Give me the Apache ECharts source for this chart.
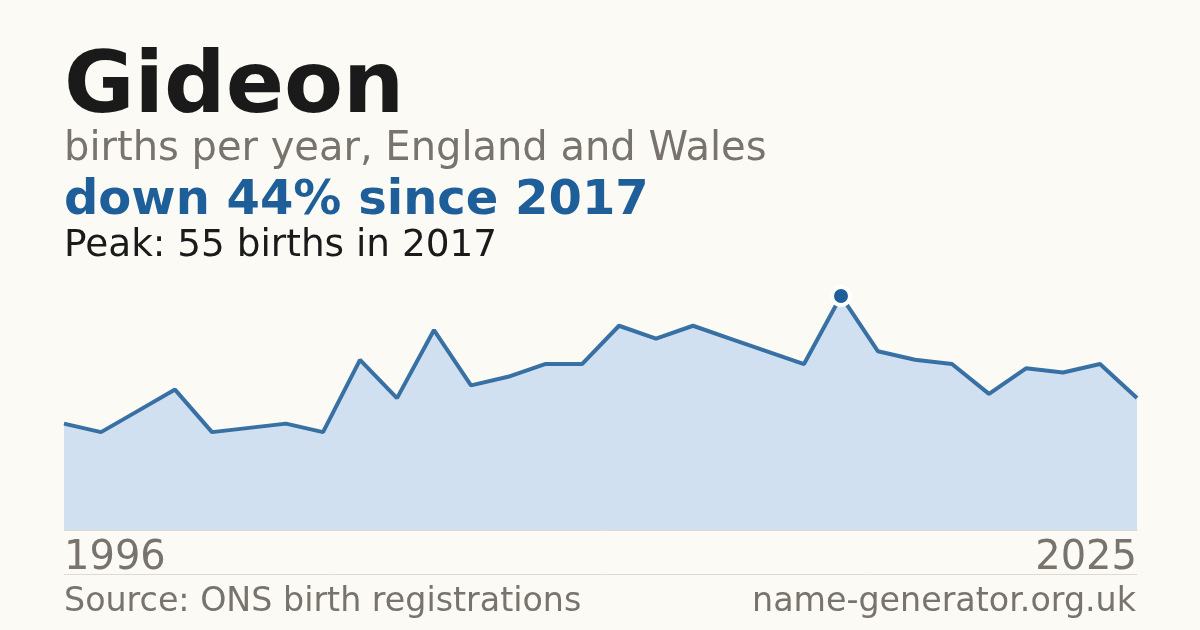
<!DOCTYPE html>
<html>

<head>
    <meta charset='UTF-8'>
    <script src="https://cdn.jsdelivr.net/npm/echarts@6/dist/echarts.min.js"></script>
    <style>
        html,
        body {
            margin: 0;
            padding: 0;
            background: #fbfaf5;
        }

        #chart {
            width: 1200px;
            height: 630px;
        }
    </style>
    <title>Gideon</title>
</head>

<body>
    <div id="chart"></div>

    <script>
        // births per year
        var years = ['1996', '1997', '1998', '1999', '2000', '2001', '2002', '2003', '2004', '2005',
            '2006', '2007', '2008', '2009', '2010', '2011', '2012', '2013', '2014', '2015',
            '2016', '2017', '2018', '2019', '2020', '2021', '2022', '2023', '2024', '2025'];
        var births = [25, 23, 28, 33, 23, 24, 25, 23, 40, 31,
            47, 34, 36, 39, 39, 48, 45, 48, 45, 42,
            39, 55, 42, 40, 39, 32, 38, 37, 39, 31];

        var titleText = 'Gideon';
        var subtitleText = 'births per year, England and Wales';
        var changeText = 'down 44% since 2017';
        var peakText = 'Peak: 55 births in 2017';
        var sourceText = 'Source: ONS birth registrations';
        var siteText = 'name-generator.org.uk';

        var font = '"DejaVu Sans", Verdana, sans-serif';
        var grey = '#78736d';
        var blue = '#1f5f99';

        var myChart = echarts.init(document.getElementById('chart'), null, {
            renderer: 'canvas'
        });

        var option = {
            backgroundColor: '#fbfaf5',
            animation: false,
            textStyle: {
                fontFamily: font
            },
            grid: {
                left: 64,
                right: 63,
                top: 274.7,
                bottom: 100
            },
            xAxis: {
                type: 'category',
                boundaryGap: false,
                data: years,
                axisTick: { show: false },
                axisLine: {
                    lineStyle: { color: '#dedad2', width: 1 }
                },
                axisLabel: {
                    interval: function (i) {
                        return i === 0 || i === years.length - 1;
                    },
                    showMinLabel: true,
                    showMaxLabel: true,
                    alignMinLabel: 'left',
                    alignMaxLabel: 'right',
                    fontSize: 40,
                    fontFamily: font,
                    color: grey,
                    margin: 9
                },
                splitLine: { show: false }
            },
            yAxis: {
                type: 'value',
                min: 0,
                max: 60,
                show: false
            },
            series: [{
                type: 'line',
                data: births,
                showSymbol: false,
                lineStyle: {
                    color: blue,
                    width: 4,
                    opacity: 0.88
                },
                areaStyle: {
                    color: '#d0e0f0',
                    opacity: 1
                },
                markPoint: {
                    symbol: 'circle',
                    symbolSize: 18,
                    label: { show: false },
                    itemStyle: {
                        color: blue,
                        borderColor: '#ffffff',
                        borderWidth: 4
                    },
                    data: [{ type: 'max' }]
                }
            }],
            graphic: [{
                type: 'text',
                left: 64,
                top: 47,
                style: {
                    text: titleText,
                    font: 'bold 86px ' + font,
                    fill: '#1a1a1a'
                }
            }, {
                type: 'text',
                left: 64,
                top: 130,
                style: {
                    text: subtitleText,
                    font: '40px ' + font,
                    fill: grey
                }
            }, {
                type: 'text',
                left: 64,
                top: 178,
                style: {
                    text: changeText,
                    font: 'bold 48px ' + font,
                    fill: blue
                }
            }, {
                type: 'text',
                left: 64,
                top: 228,
                style: {
                    text: peakText,
                    font: '37.4px ' + font,
                    fill: '#1a1a1a'
                }
            }, {
                type: 'line',
                shape: { x1: 64, y1: 574.5, x2: 1137, y2: 574.5 },
                style: { stroke: '#dedad2', lineWidth: 1 }
            }, {
                type: 'text',
                left: 64,
                top: 586,
                style: {
                    text: sourceText,
                    font: '33.3px ' + font,
                    fill: grey
                }
            }, {
                type: 'text',
                right: 64,
                top: 586,
                style: {
                    text: siteText,
                    font: '33.3px ' + font,
                    fill: grey
                }
            }]
        };

        myChart.setOption(option);
        window.addEventListener('resize', myChart.resize);
    </script>
</body>

</html>
